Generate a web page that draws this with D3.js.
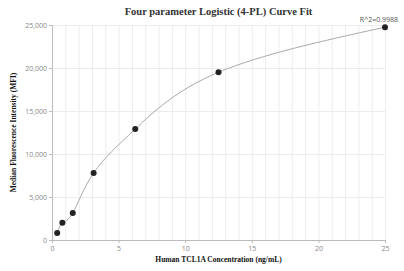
<!DOCTYPE html>
<html lang="en">
<head>
  <meta charset="UTF-8">
  <style>
    body, html { margin: 0; padding: 0; background: #fff; }
    #svg { display: block; }
    .tick text { fill: #888; font-family: "Open Sans", "DejaVu Sans", sans-serif; font-size: 7px; }
    .axis path, .axis line { stroke: #bbb; }
    .grid line { stroke: #ececec; }
    .grid path { display: none; }
  </style>
</head>
<body>
  <svg id="svg" width="404" height="271"></svg>
  <script src="https://d3js.org/d3.v7.min.js"></script>
  <script>
    // data
    const conc = [0.39, 0.78, 1.56, 3.125, 6.25, 12.5, 25]
    const mfi = [820, 2000, 3150, 7800, 12900, 19500, 24750]
    const xTicks = [0, 5, 10, 15, 20, 25]
    const yTicks = [0, 5000, 10000, 15000, 20000, 25000]
    const r2Label = 'R^2=0.9988'

    const margin = { top: 25, right: 19, bottom: 31, left: 52 }
    const width = 404 - margin.left - margin.right
    const height = 271 - margin.top - margin.bottom

    const svg = d3.select('#svg')
    const g = svg.append('g').attr('transform', `translate(${margin.left},${margin.top})`)

    const xscale = d3.scaleLinear().domain([0, 25]).range([0, width])
    const yscale = d3.scaleLinear().domain([0, 25000]).range([height, 0])

    // grid lines
    g.append('g').attr('class', 'grid')
      .attr('transform', `translate(0,${height})`)
      .call(d3.axisBottom(xscale).tickValues(d3.range(1, 26)).tickSize(-height).tickFormat(''))
    g.append('g').attr('class', 'grid')
      .call(d3.axisLeft(yscale).tickValues(yTicks.slice(1)).tickSize(-width).tickFormat(''))

    // axes
    g.append('g').attr('class', 'axis')
      .attr('transform', `translate(0,${height})`)
      .call(d3.axisBottom(xscale).tickValues(xTicks).tickSize(3).tickPadding(3))
    g.append('g').attr('class', 'axis')
      .call(d3.axisLeft(yscale).tickValues(yTicks).tickSize(3).tickPadding(2).tickFormat(d3.format(',')))

    // fit curve
    const pts = conc.map((c, i) => [c, mfi[i]])
    const line = d3.line()
      .x(d => xscale(d[0]))
      .y(d => yscale(d[1]))
      .curve(d3.curveNatural)
    g.append('path')
      .datum(pts)
      .attr('d', line)
      .attr('fill', 'none')
      .attr('stroke', '#aaa')
      .attr('stroke-width', 1)

    // points
    g.selectAll('circle')
      .data(pts)
      .enter()
      .append('circle')
      .attr('cx', d => xscale(d[0]))
      .attr('cy', d => yscale(d[1]))
      .attr('r', 3)
      .attr('fill', '#222')

    // R^2 label
    g.append('text')
      .attr('x', xscale(25) + 13)
      .attr('y', yscale(mfi[mfi.length - 1]) - 5)
      .attr('text-anchor', 'end')
      .attr('fill', '#555')
      .style('font-family', '"Open Sans", "DejaVu Sans", sans-serif')
      .style('font-size', '7px')
      .text(r2Label)

    // title and axis labels
    svg.append('text')
      .attr('x', margin.left + width / 2)
      .attr('y', 15)
      .attr('text-anchor', 'middle')
      .attr('fill', '#333')
      .style('font-family', '"Liberation Serif", serif')
      .style('font-weight', 'bold')
      .style('font-size', '10.5px')
      .text('Four parameter Logistic (4-PL) Curve Fit')

    svg.append('text')
      .attr('x', margin.left + width / 2)
      .attr('y', 262)
      .attr('text-anchor', 'middle')
      .attr('fill', '#111')
      .style('font-family', '"Liberation Serif", serif')
      .style('font-weight', 'bold')
      .style('font-size', '7.5px')
      .text('Human TCL1A Concentration (ng/mL)')

    svg.append('text')
      .attr('transform', `translate(16,${margin.top + height / 2}) rotate(-90)`)
      .attr('text-anchor', 'middle')
      .attr('fill', '#111')
      .style('font-family', '"Liberation Serif", serif')
      .style('font-weight', 'bold')
      .style('font-size', '7.5px')
      .text('Median Fluorescence Intensity (MFI)')
  </script>
</body>
</html>
